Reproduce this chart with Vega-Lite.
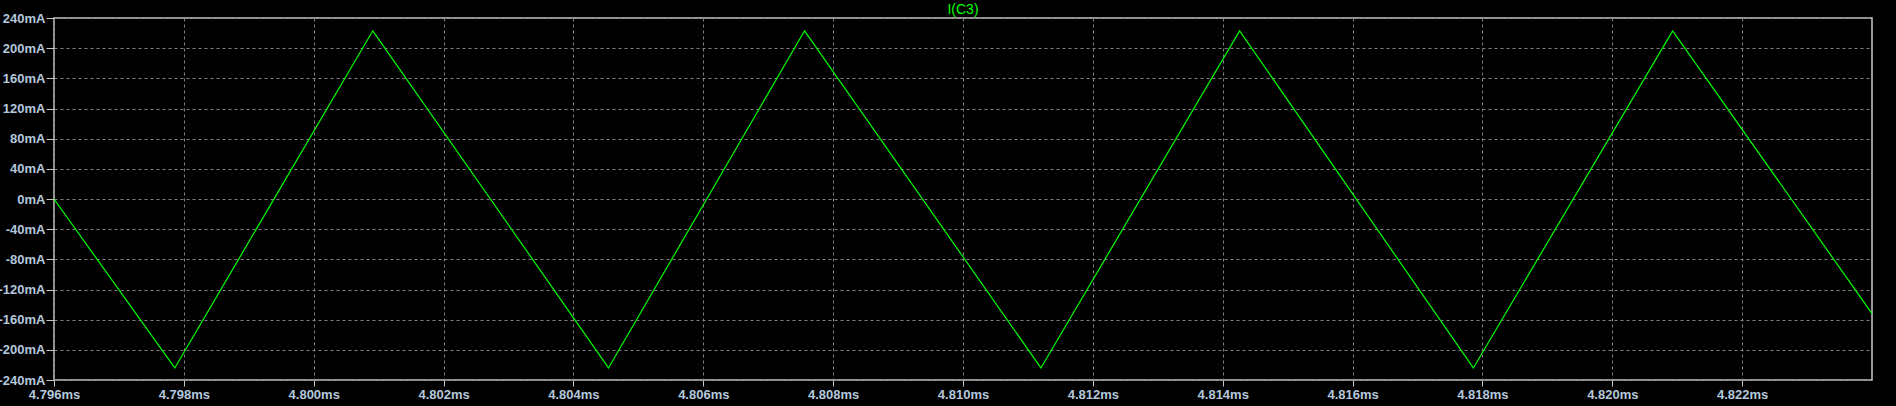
{
  "$schema": "https://vega.github.io/schema/vega-lite/v6.json",
  "width": 1818,
  "height": 362,
  "padding": {"left": 54, "top": 18, "right": 24, "bottom": 26},
  "autosize": {"type": "none"},
  "background": "#000000",
  "config": {
    "view": {"stroke": "#c8c8c8", "strokeWidth": 1.5},
    "font": "Liberation Sans"
  },
  "title": {
    "text": "I(C3)",
    "color": "#00ff00",
    "fontSize": 14,
    "fontWeight": "normal",
    "font": "Liberation Sans",
    "anchor": "middle",
    "offset": 0,
    "dy": 5
  },
  "data": {
    "values": [
      {"t": 4.796, "i": 0},
      {"t": 4.79786, "i": -224},
      {"t": 4.80091, "i": 223},
      {"t": 4.80454, "i": -224},
      {"t": 4.80756, "i": 223},
      {"t": 4.81120, "i": -224},
      {"t": 4.81426, "i": 223},
      {"t": 4.81786, "i": -224},
      {"t": 4.82093, "i": 223},
      {"t": 4.824, "i": -152}
    ]
  },
  "mark": {"type": "line", "color": "#00ff00", "strokeWidth": 1.2, "clip": true},
  "encoding": {
    "x": {
      "field": "t",
      "type": "quantitative",
      "scale": {"domain": [4.796, 4.824], "nice": false, "zero": false},
      "axis": {
        "title": null,
        "values": [4.796, 4.798, 4.8, 4.802, 4.804, 4.806, 4.808, 4.81, 4.812, 4.814, 4.816, 4.818, 4.82, 4.822],
        "labelExpr": "format(datum.value, '.3f') + 'ms'",
        "labelColor": "#b4c8dc",
        "labelFont": "Liberation Sans",
        "labelFontSize": 13,
        "labelFontWeight": "bold",
        "labelPadding": 2,
        "labelFlush": false,
        "labelOverlap": false,
        "domain": false,
        "tickColor": "#c8c8c8",
        "tickSize": 6,
        "grid": true,
        "gridColor": "#808080",
        "gridDash": [3, 3],
        "gridWidth": 1
      }
    },
    "y": {
      "field": "i",
      "type": "quantitative",
      "scale": {"domain": [-240, 240], "nice": false},
      "axis": {
        "title": null,
        "values": [-240, -200, -160, -120, -80, -40, 0, 40, 80, 120, 160, 200, 240],
        "labelExpr": "datum.value + 'mA'",
        "labelColor": "#b4c8dc",
        "labelFont": "Liberation Sans",
        "labelFontSize": 13,
        "labelFontWeight": "bold",
        "labelPadding": 1,
        "labelFlush": false,
        "labelOverlap": false,
        "domain": false,
        "tickColor": "#c8c8c8",
        "tickSize": 8,
        "grid": true,
        "gridColor": "#808080",
        "gridDash": [3, 3],
        "gridWidth": 1
      }
    }
  }
}
